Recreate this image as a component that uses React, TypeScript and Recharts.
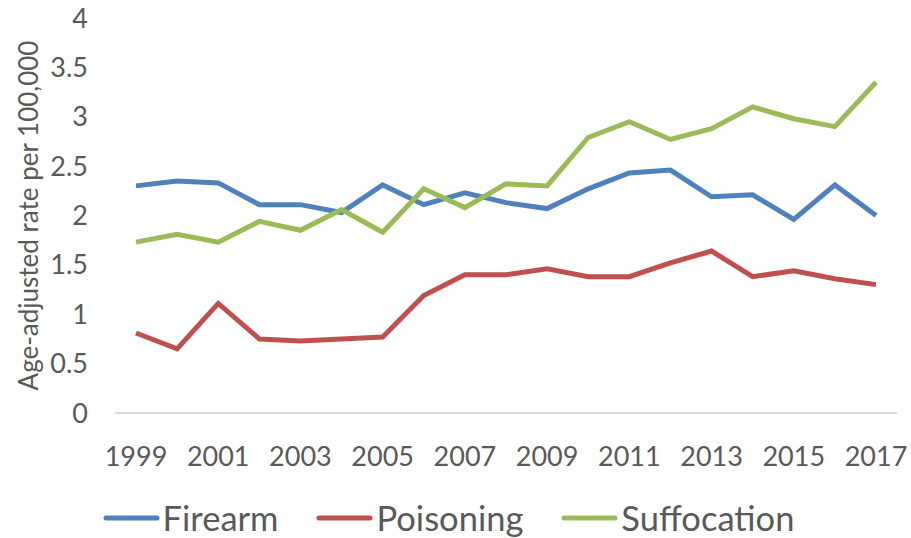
import React from 'react';
import { LineChart, Line, XAxis, YAxis, Legend, Label } from 'recharts';

const years = [
    '1999', '2000', '2001', '2002', '2003', '2004', '2005', '2006', '2007', '2008',
    '2009', '2010', '2011', '2012', '2013', '2014', '2015', '2016', '2017'
];
const firearm = [2.30, 2.35, 2.33, 2.11, 2.11, 2.03, 2.31, 2.11, 2.23, 2.13, 2.07, 2.27, 2.43, 2.46, 2.19, 2.21, 1.96, 2.31, 2.0];
const poisoning = [0.81, 0.65, 1.11, 0.75, 0.73, 0.75, 0.77, 1.19, 1.40, 1.40, 1.46, 1.38, 1.38, 1.52, 1.64, 1.38, 1.44, 1.36, 1.30];
const suffocation = [1.73, 1.81, 1.73, 1.94, 1.85, 2.06, 1.83, 2.27, 2.08, 2.32, 2.30, 2.79, 2.95, 2.77, 2.88, 3.10, 2.98, 2.90, 3.35];
const yTicks = [0, 0.5, 1, 1.5, 2, 2.5, 3, 3.5, 4];

const series = [
    { key: 'Firearm', color: '#4F81BD' },
    { key: 'Poisoning', color: '#C0504D' },
    { key: 'Suffocation', color: '#9BBB59' }
];

const data = years.map((year, i) => ({
    year,
    Firearm: firearm[i],
    Poisoning: poisoning[i],
    Suffocation: suffocation[i]
}));

const FONT = 'Lato, "Open Sans", sans-serif';
const TEXT = '#595959';

const LegendRow = () => (
    <div style={{ display: 'flex', justifyContent: 'center', alignItems: 'center', height: 40, fontFamily: FONT }}>
        {series.map((s, i) => (
            <div key={s.key} style={{ display: 'flex', alignItems: 'center', marginLeft: i === 0 ? 0 : 38 }}>
                <svg width={57} height={8} style={{ marginRight: 3 }}>
                    <line x1={3} y1={4} x2={54} y2={4} stroke={s.color} strokeWidth={5} strokeLinecap="round" />
                </svg>
                <span style={{ fontSize: 34.5, color: TEXT, lineHeight: '40px' }}>{s.key}</span>
            </div>
        ))}
    </div>
);

export default function App() {
    return (
        <div style={{ position: 'absolute', left: 0, top: 0, width: 911, height: 538, background: '#fff' }}>
            <LineChart width={911} height={538} data={data} margin={{ top: 18, right: 14, left: 0, bottom: 0 }}>
                <XAxis
                    dataKey="year"
                    interval={1}
                    height={85}
                    padding={{ left: 21, right: 21 }}
                    axisLine={{ stroke: '#d9d9d9', strokeWidth: 2 }}
                    tickLine={false}
                    tickSize={0}
                    tickMargin={34}
                    tick={{ fill: TEXT, fontSize: 27, fontFamily: FONT }}
                />
                <YAxis
                    width={115}
                    domain={[0, 4]}
                    ticks={yTicks}
                    axisLine={false}
                    tickLine={false}
                    tickSize={0}
                    tickMargin={27}
                    tick={{ fill: TEXT, fontSize: 27, fontFamily: FONT }}
                >
                    <Label
                        value="Age-adjusted rate per 100,000"
                        angle={-90}
                        position="insideLeft"
                        offset={29}
                        style={{ textAnchor: 'middle', fill: TEXT, fontSize: 26, fontFamily: FONT }}
                    />
                </YAxis>
                <Legend verticalAlign="bottom" height={40} content={() => <LegendRow />} />
                {series.map((s) => (
                    <Line
                        key={s.key}
                        type="linear"
                        dataKey={s.key}
                        stroke={s.color}
                        strokeWidth={5}
                        dot={false}
                        activeDot={false}
                        isAnimationActive={false}
                    />
                ))}
            </LineChart>
        </div>
    );
}
